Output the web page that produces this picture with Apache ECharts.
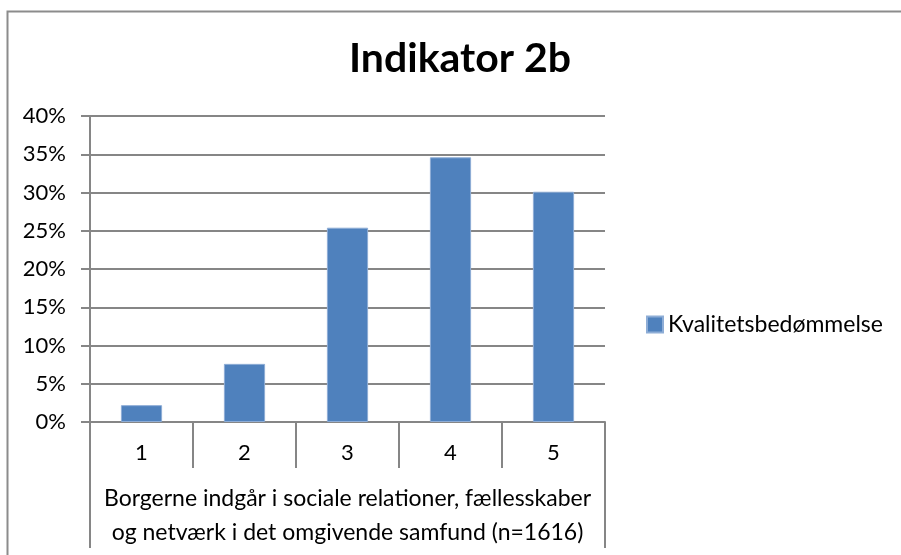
<!DOCTYPE html>
<html>
<head>
<meta charset="utf-8">
<script src="https://cdn.jsdelivr.net/npm/echarts@6/dist/echarts.min.js"></script>
<style>
  html, body { margin: 0; padding: 0; background: #fff; }
  #chart { width: 901px; height: 555px; }
</style>
</head>
<body>
<div id="chart"></div>
<script>
// data
const categories = ['1', '2', '3', '4', '5']
const values = [2.2, 7.6, 25.4, 34.6, 30.1]   // percent
const seriesName = 'Kvalitetsbedømmelse'
const groupLabel = 'Borgerne indgår i sociale relationer, fællesskaber\nog netværk i det omgivende samfund (n=1616)'

const FONT = 'Lato, "Open Sans", sans-serif'
const GRAY = '#868686'

const chart = echarts.init(document.getElementById('chart'))

chart.setOption({
  backgroundColor: '#fff',
  animation: false,
  textStyle: { fontFamily: FONT },
  title: {
    text: 'Indikator 2b',
    left: 455,
    top: 33,
    textAlign: 'center',
    textStyle: { fontFamily: FONT, fontSize: 41, fontWeight: 'bold', color: '#000' }
  },
  legend: {
    data: [seriesName],
    left: 646,
    top: 313,
    padding: 0,
    icon: 'rect',
    itemWidth: 16,
    itemHeight: 16,
    textStyle: { fontFamily: FONT, fontSize: 23, color: '#000' }
  },
  grid: { left: 90, right: 296, top: 116, bottom: 133 },
  xAxis: [
    {
      type: 'category',
      data: categories,
      axisLine: { lineStyle: { color: GRAY, width: 2 } },
      axisTick: { show: true, length: 46, lineStyle: { color: GRAY, width: 2 } },
      axisLabel: { margin: 20, fontSize: 22, color: '#000', fontFamily: FONT }
    },
    {
      // outer group label (two-level category axis look)
      type: 'category',
      position: 'bottom',
      data: [groupLabel],
      axisLine: { show: false },
      axisTick: { show: true, length: 126, lineStyle: { color: GRAY, width: 2 } },
      axisLabel: { margin: 60, fontSize: 23, lineHeight: 34, color: '#000', fontFamily: FONT, interval: 0 }
    }
  ],
  yAxis: {
    type: 'value',
    min: 0,
    max: 40,
    interval: 5,
    axisLine: { show: true, lineStyle: { color: GRAY, width: 2 } },
    axisTick: { show: true, length: 9, lineStyle: { color: GRAY, width: 2 } },
    axisLabel: { formatter: '{value}%', margin: 24, fontSize: 22, color: '#000', fontFamily: FONT },
    splitLine: { show: true, lineStyle: { color: GRAY, width: 2 } }
  },
  series: [
    {
      name: seriesName,
      type: 'bar',
      xAxisIndex: 0,
      data: values,
      barWidth: '40%',
      itemStyle: { color: '#4F81BD', borderColor: '#8EADD6', borderWidth: 1 }
    }
  ],
  graphic: [
    {
      type: 'rect',
      silent: true,
      z: -1,
      shape: { x: 7.5, y: 11.5, width: 1000, height: 1000 },
      style: { fill: null, stroke: '#8C8C8C', lineWidth: 2 }
    }
  ]
})
</script>
</body>
</html>
